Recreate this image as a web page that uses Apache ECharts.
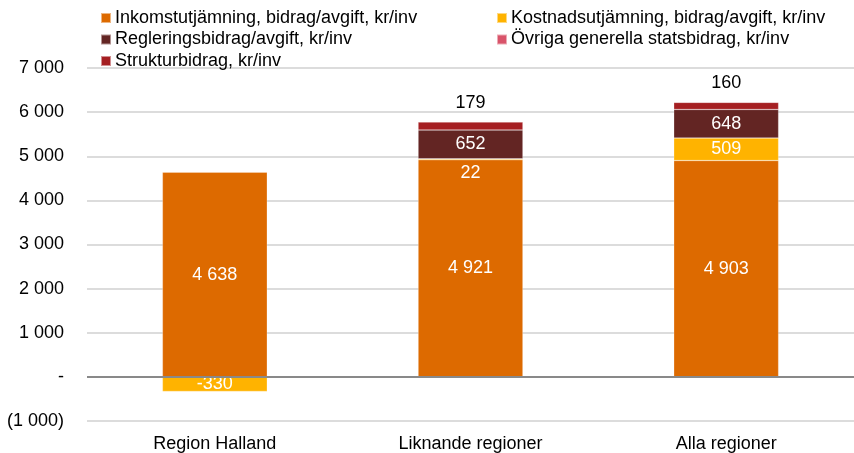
<!DOCTYPE html>
<html>
<head>
<meta charset="utf-8">
<script src="https://cdn.jsdelivr.net/npm/echarts@6/dist/echarts.min.js"></script>
<style>
html,body{margin:0;padding:0;background:#fff;}
#chart{width:854px;height:453px;}
</style>
</head>
<body>
<div id="chart"></div>
<script>
const categories = ['Region Halland', 'Liknande regioner', 'Alla regioner'];
const inkomst = [4638, 4921, 4903];
const kostnad = [-330, 22, 509];
const reglering = [null, 652, 648];
const ovriga = [null, null, null];
const struktur = [null, 179, 160];
const seriesNames = [
  'Inkomstutjämning, bidrag/avgift, kr/inv',
  'Kostnadsutjämning, bidrag/avgift, kr/inv',
  'Regleringsbidrag/avgift, kr/inv',
  'Övriga generella statsbidrag, kr/inv',
  'Strukturbidrag, kr/inv'
];
const colors = ['#DD6A00', '#FFB300', '#632523', '#D9546A', '#A51F22'];

function fmtNum(v) {
  const s = Math.abs(Math.round(v)).toString().replace(/\B(?=(\d{3})+(?!\d))/g, ' ');
  return (v < 0 ? '-' : '') + s;
}
function fmtAxis(v) {
  if (v === 0) return '-';
  const s = Math.abs(v).toString().replace(/\B(?=(\d{3})+(?!\d))/g, ' ');
  return v < 0 ? '(' + s + ')' : s;
}

const FONT = 'Liberation Sans, Arial, sans-serif';
const FS = 18;
const insideLabel = {
  show: true, position: 'inside', color: '#fff', fontSize: FS, fontFamily: FONT,
  formatter: p => (p.value == null || p.value === 0) ? '' : fmtNum(p.value)
};

function mkSeries(name, data, color, label) {
  return {
    name: name, type: 'bar', stack: 'total', data: data,
    barWidth: '41%',
    itemStyle: { color: color, borderColor: 'rgba(255,255,255,0.5)', borderWidth: 0.5 },
    label: label,
    emphasis: { disabled: true }
  };
}

const kostnadData = kostnad.map((v, i) => i === 1 ? { value: v, label: { offset: [0, 14] } } : v);

const legendText = { fontSize: FS, color: '#000', fontFamily: FONT, padding: [0, 0, 0, -1] };

const chart = echarts.init(document.getElementById('chart'), null, { renderer: 'canvas' });
chart.setOption({
  animation: false,
  color: colors,
  textStyle: { fontFamily: FONT },
  legend: [
    {
      data: [seriesNames[0], seriesNames[2], seriesNames[4]],
      orient: 'vertical', left: 95, top: 4, itemGap: 3.5,
      itemWidth: 10, itemHeight: 10, icon: 'rect',
      textStyle: legendText
    },
    {
      data: [seriesNames[1], seriesNames[3]],
      orient: 'vertical', left: 491, top: 4, itemGap: 3.5,
      itemWidth: 10, itemHeight: 10, icon: 'rect',
      textStyle: legendText
    }
  ],
  grid: { left: 87, right: 0, top: 68, bottom: 32, containLabel: false },
  xAxis: {
    type: 'category', data: categories,
    axisLine: { show: false }, axisTick: { show: false },
    axisLabel: { fontSize: FS, color: '#000', fontFamily: FONT, margin: 14 }
  },
  yAxis: {
    type: 'value', min: -1000, max: 7000, interval: 1000,
    axisLine: { show: false }, axisTick: { show: false },
    splitLine: { lineStyle: { color: '#d0d0d0', width: 1.5 } },
    axisLabel: { fontSize: FS, color: '#000', fontFamily: FONT, margin: 23, formatter: fmtAxis }
  },
  series: [
    mkSeries(seriesNames[0], inkomst, colors[0], insideLabel),
    mkSeries(seriesNames[1], kostnadData, colors[1], insideLabel),
    mkSeries(seriesNames[2], reglering, colors[2], insideLabel),
    mkSeries(seriesNames[3], ovriga, colors[3], { show: false }),
    Object.assign(mkSeries(seriesNames[4], struktur, colors[4], {
      show: true, position: 'top', color: '#000', fontSize: FS, fontFamily: FONT, distance: 10,
      formatter: p => (p.value == null || p.value === 0) ? '' : fmtNum(p.value)
    }), {
      markLine: {
        silent: true, symbol: 'none', label: { show: false },
        lineStyle: { color: '#898989', width: 2, type: 'solid' },
        data: [{ yAxis: 0 }]
      }
    })
  ]
});
</script>
</body>
</html>
